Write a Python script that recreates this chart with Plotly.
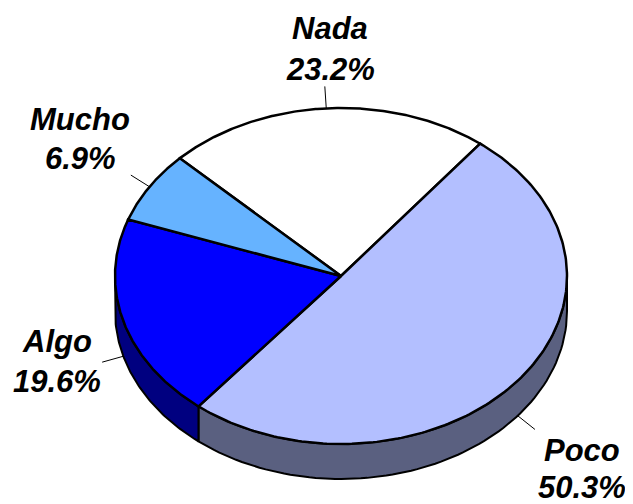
import numpy as np
import plotly.graph_objects as go

# survey answers, clockwise from the top-left
labels = ["Nada", "Poco", "Algo", "Mucho"]
values = [23.2, 50.3, 19.6, 6.9]

top_colors = ["#FFFFFF", "#B3BFFF", "#0000FF", "#66B3FF"]
side_colors = ["#A0A0A0", "#5A6080", "#000080", "#335A80"]

# label placement (x, y of name line, y of percent line), pixel coords
label_pos = [(330, 28, 69), (582, 450, 487), (57, 341, 381), (80, 119, 158)]

# pie geometry in pixels
cx, cy = 341, 276
rx, ry = 226, 168
depth = 35
start = 135.5  # degrees, slices go clockwise

W, H = 633, 504
PAD = 8  # page body margin of the html


def ell(t_deg, dy=0):
    t = np.radians(t_deg)
    return cx + rx * np.cos(t), cy - ry * np.sin(t) + dy


fig = go.Figure()

total = sum(values)
bounds = []
acc = 0
for v in values:
    t0 = start - 360 * acc / total
    t1 = t0 - 360 * v / total
    bounds.append((t0, t1))
    acc += v

# sides (only the front half is visible)
for (t0, t1), col in zip(bounds, side_colors):
    for shift in (-360, 0, 360):
        lo = max(t1, -180 + shift)
        hi = min(t0, 0 + shift)
        if lo >= hi:
            continue
        tt = np.linspace(hi, lo, 80)
        xt, yt = ell(tt)
        xb, yb = ell(tt[::-1], depth)
        xs = np.concatenate([xt, xb, xt[:1]])
        ys = np.concatenate([yt, yb, yt[:1]])
        fig.add_trace(go.Scatter(x=xs, y=ys, mode="lines", fill="toself",
                                 fillcolor=col, line=dict(color="black", width=2),
                                 hoverinfo="skip", showlegend=False))

# tops
for (t0, t1), col, name, v in zip(bounds, top_colors, labels, values):
    tt = np.linspace(t0, t1, 200)
    xa, ya = ell(tt)
    xs = np.concatenate([[cx], xa, [cx]])
    ys = np.concatenate([[cy], ya, [cy]])
    fig.add_trace(go.Scatter(x=xs, y=ys, mode="lines", fill="toself",
                             fillcolor=col, line=dict(color="black", width=2.5),
                             name=name, text=f"{name}: {v}%", hoverinfo="text",
                             showlegend=False))

# leader lines and labels
lab_font = dict(family="Liberation Sans, Arial", size=31, color="black",
                weight="bold", style="italic")
for (t0, t1), name, v, (lx, ly1, ly2) in zip(bounds, labels, values, label_pos):
    tm = (t0 + t1) / 2
    dy = depth if np.sin(np.radians(tm)) < 0 else 0
    x0, y0 = ell(tm, dy)
    ux, uy = np.cos(np.radians(tm)), -np.sin(np.radians(tm))
    fig.add_trace(go.Scatter(x=[x0, x0 + 22 * ux], y=[y0, y0 + 22 * uy],
                             mode="lines", line=dict(color="black", width=1),
                             hoverinfo="skip", showlegend=False))
    fig.add_annotation(x=lx, y=ly1, text=name, showarrow=False, font=lab_font,
                       xanchor="center", yanchor="middle")
    fig.add_annotation(x=lx, y=ly2, text=f"{v:.1f}%", showarrow=False,
                       font=lab_font, xanchor="center", yanchor="middle")

fig.update_xaxes(range=[PAD, W], visible=False, fixedrange=True)
fig.update_yaxes(range=[H, PAD], visible=False, fixedrange=True)
fig.update_layout(width=W - PAD, height=H - PAD, margin=dict(l=0, r=0, t=0, b=0),
                  plot_bgcolor="white", paper_bgcolor="white")

fig.write_html("out.html")
